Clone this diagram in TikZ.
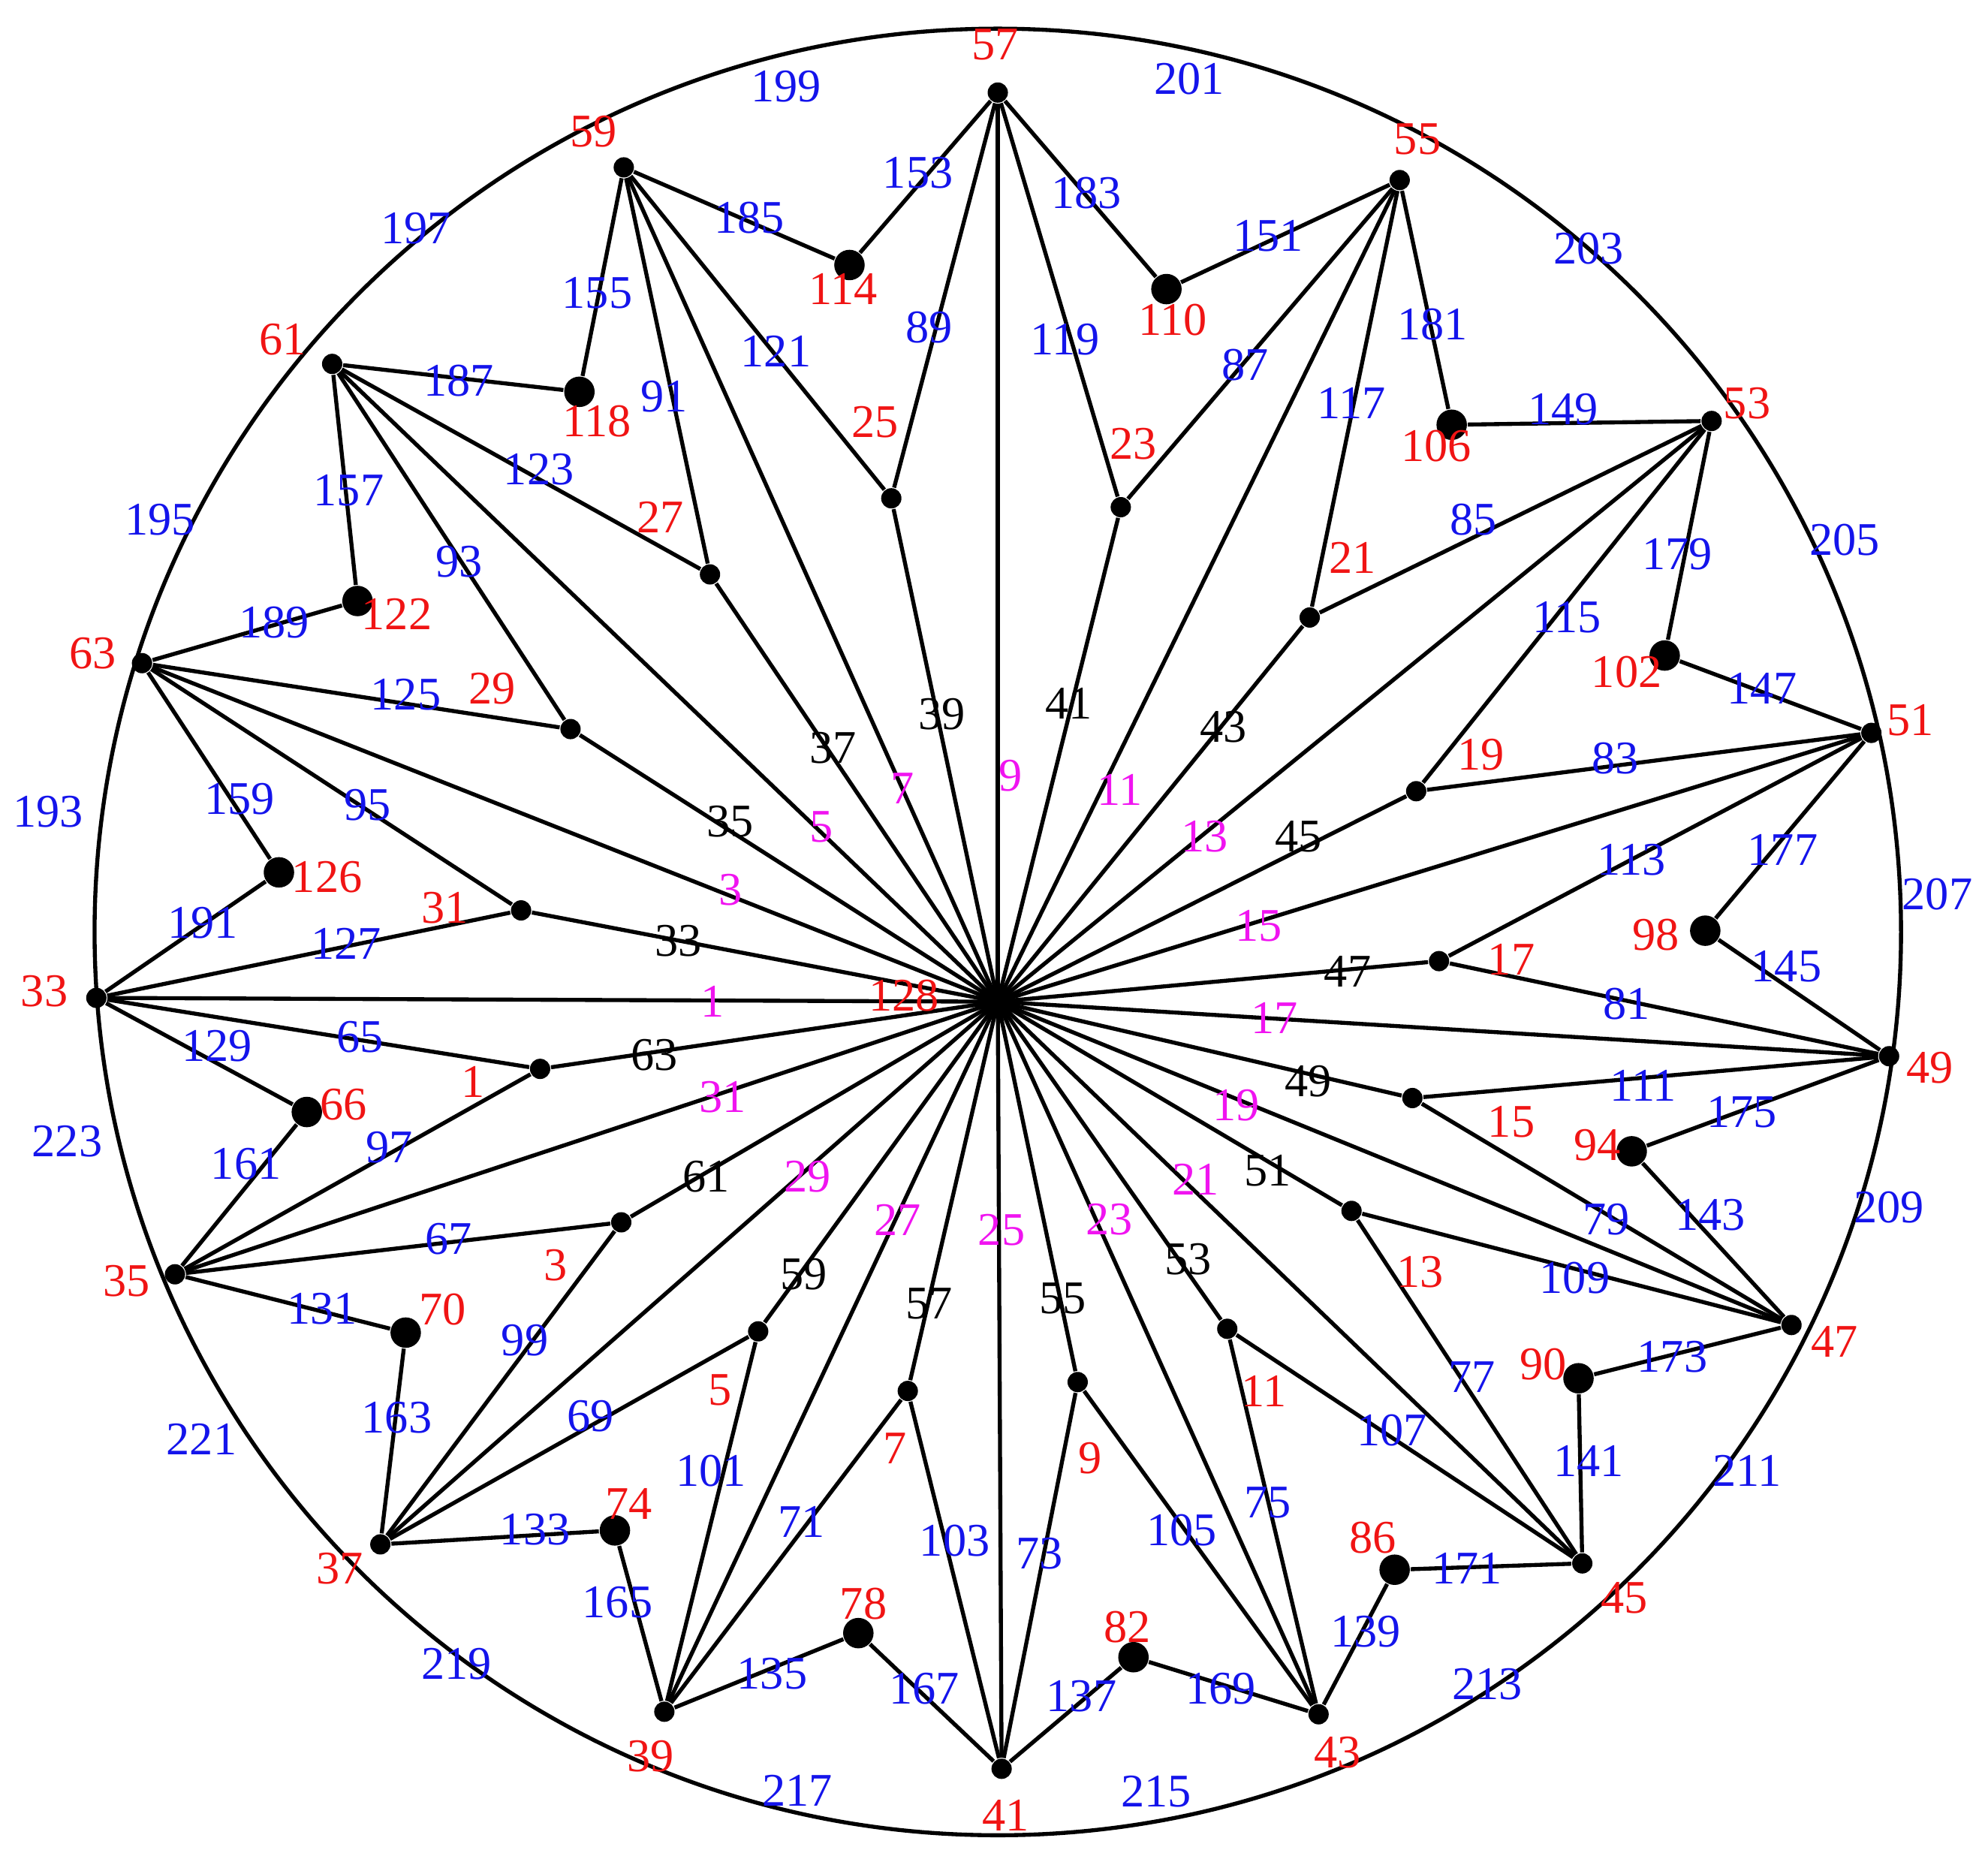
\documentclass[tikz,border=0pt]{standalone}
\usepackage{fontspec}
\setmainfont{Liberation Serif}
\definecolor{lblue}{RGB}{20,20,235}
\definecolor{lred}{RGB}{240,20,20}
\definecolor{lmag}{RGB}{240,20,240}
\begin{document}
\begin{tikzpicture}[x=0.01cm,y=-0.01cm,
  edge/.style={line width=0.9pt,black},
  sdot/.style={circle,fill=black,inner sep=0pt,minimum size=1.6mm},
  bdot/.style={circle,fill=black,inner sep=0pt,minimum size=2.4mm},
  lab/.style={font=\fontsize{10.5}{11}\selectfont,inner sep=0pt},
  rl/.style={lab,text=lred},bl/.style={lab,text=lblue},
  kl/.style={lab,text=black},ml/.style={lab,text=lmag}]
\useasboundingbox (0,0) rectangle (1568,1466);
\draw[edge] (787,735) circle[radius=7.12cm];
\coordinate (H) at (787,790);
% outer vertices
\foreach \n/\x/\y in {o0/787/73,o1/1104/142,o2/1350/332,o3/1476/578,o4/1490/833,o5/1413/1045,o6/1248/1233,o7/1040/1352,o8/790/1395,o9/524/1350,o10/300/1218,o11/138/1005,o12/76/787,o13/112/523,o14/262/287,o15/492/132}
  \node[sdot] (\n) at (\x,\y) {};
% inner vertices (between o_{k-1}/o_{k}) : i0 between o15,o0
\foreach \n/\x/\y in {i0/703/393,i1/884/400,i2/1033/487,i3/1117/624,i4/1135/758,i5/1114/866,i6/1066/955,i7/968/1048,i8/850/1090,i9/716/1097,i10/598/1050,i11/490/964,i12/426/843,i13/411/718,i14/450/575,i15/560/453}
  \node[sdot] (\n) at (\x,\y) {};
% pendant vertices
\foreach \n/\x/\y in {p0/670/209,p1/920/228,p2/1145/335,p3/1313/517,p4/1345/734,p5/1287/908,p6/1245/1087,p7/1100/1238,p8/894/1307,p9/677/1288,p10/485/1207,p11/320/1051,p12/242/877,p13/220/688,p14/282/474,p15/457/309}
  \node[bdot] (\n) at (\x,\y) {};
\foreach \k/\p in {0/15,1/0,2/1,3/2,4/3,5/4,6/5,7/6,8/7,9/8,10/9,11/10,12/11,13/12,14/13,15/14}{
  \draw[edge] (H) -- (o\k);
  \draw[edge] (H) -- (i\k);
  \draw[edge] (o\p) -- (i\k) -- (o\k);
  \draw[edge] (o\p) -- (p\k) -- (o\k);
}
% red labels
\foreach \t/\x/\y in {57/785/35,55/1118/110,53/1378/318,51/1507/568,49/1522/842,47/1447/1058,45/1281/1260,43/1055/1382,41/793/1432,39/513/1385,37/268/1237,35/100/1010,33/35/782,63/73/515,61/223/268,59/468/104,
114/665/228,110/925/252,106/1133/352,102/1283/530,98/1306/737,94/1260/903,90/1217/1076,86/1083/1213,82/889/1283,78/681/1265,74/496/1186,70/349/1033,66/271/871,126/258/692,122/313/484,118/471/332,
25/690/333,23/894/350,21/1067/440,19/1168/595,17/1192/757,15/1192/885,13/1120/1003,11/997/1097,9/860/1150,7/706/1142,5/568/1096,3/438/998,1/373/853,31/351/716,29/388/543,27/521/408,128/713/785}
  \node[rl] at (\x,\y) {\t};
% blue labels
\foreach \t/\x/\y in {121/612/277,89/733/258,119/840/268,87/982/288,117/1066/318,85/1162/410,115/1236/487,83/1274/598,113/1287/678,81/1283/792,111/1296/856,79/1267/962,109/1242/1008,77/1161/1086,107/1098/1128,75/1000/1185,105/932/1207,73/820/1225,103/753/1215,71/632/1200,101/561/1160,69/466/1117,99/414/1057,67/354/977,97/307/905,65/284/818,127/273/744,95/290/635,125/320/548,93/362/443,123/425/370,91/524/313,
185/591/172,153/724/136,183/857/152,151/1000/186,181/1130/256,149/1233/323,179/1323/437,147/1390/543,177/1406/670,145/1409/762,175/1374/877,143/1349/958,173/1319/1070,141/1253/1152,171/1157/1237,139/1077/1287,169/963/1332,137/853/1338,167/729/1332,135/609/1320,165/487/1264,133/422/1206,163/313/1118,131/254/1032,161/194/918,129/171/825,191/160/728,159/189/630,189/216/491,157/275/387,187/362/300,155/471/231,
199/620/68,201/938/62,203/1253/196,205/1455/426,207/1528/705,209/1490/952,211/1378/1160,213/1173/1328,215/912/1413,217/629/1412,219/360/1312,221/159/1135,223/53/900,193/38/640,195/126/410,197/328/180}
  \node[bl] at (\x,\y) {\t};
% black labels
\foreach \t/\x/\y in {39/743/563,41/843/555,43/965/573,45/1024/660,47/1063/766,49/1032/853,51/1000/923,53/937/993,55/838/1024,57/733/1028,59/634/1005,61/557/928,63/516/832,33/535/742,35/576/648,37/657/590}
  \node[kl] at (\x,\y) {\t};
% magenta labels
\foreach \t/\x/\y in {9/797/612,11/883/623,13/950/660,15/993/730,17/1005/803,19/975/872,21/943/930,23/875/962,25/790/970,27/708/962,29/637/928,31/570/865,1/562/790,3/576/702,5/648/652,7/712/622}
  \node[ml] at (\x,\y) {\t};
\end{tikzpicture}
\end{document}
